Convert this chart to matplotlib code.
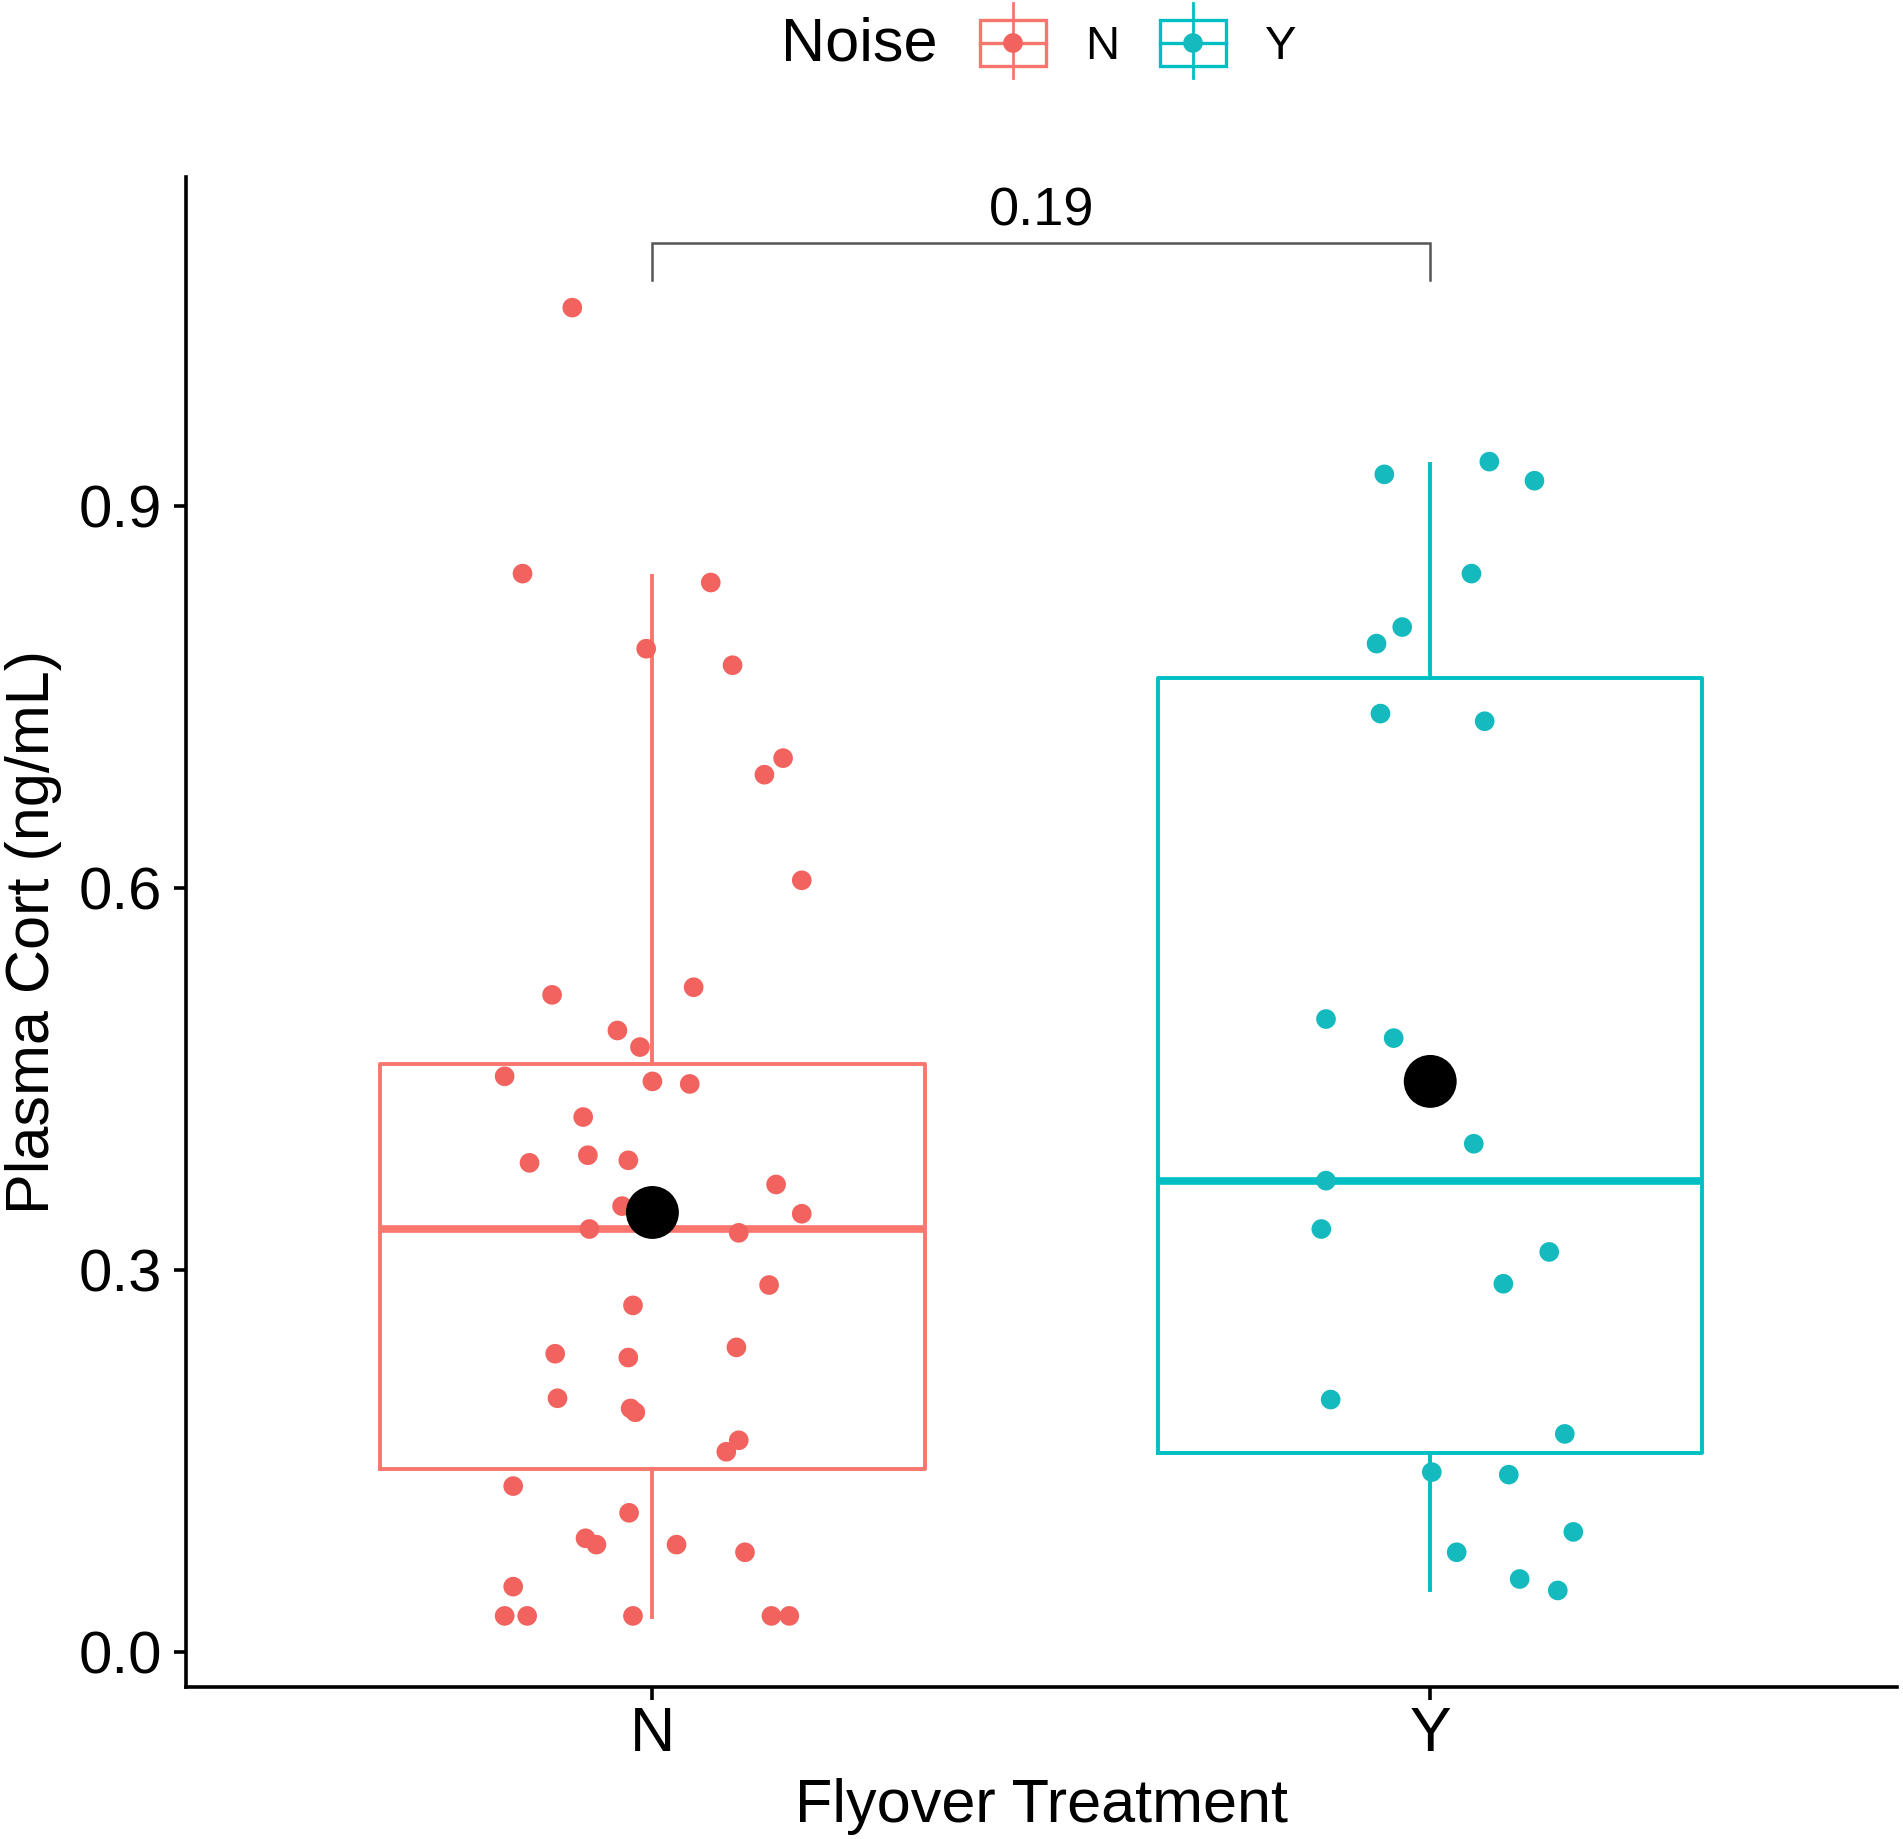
import matplotlib
matplotlib.use("Agg")
import matplotlib.pyplot as plt
import numpy as np
from matplotlib.patches import Rectangle

plt.rcParams['font.family'] = ['Liberation Sans', 'DejaVu Sans']

# ---------------- data ----------------
categories = ["N", "Y"]
colors_line = ["#F8766D", "#00BFC4"]
colors_pt = ["#F2625E", "#14BABD"]

n_values = [1.056, 0.847, 0.840, 0.788, 0.775, 0.702, 0.689, 0.606, 0.516, 0.522,
            0.488, 0.475, 0.452, 0.448, 0.446, 0.420, 0.390, 0.384, 0.386, 0.367,
            0.350, 0.344, 0.332, 0.329, 0.288, 0.272, 0.234, 0.231, 0.239, 0.199,
            0.191, 0.188, 0.166, 0.157, 0.130, 0.109, 0.089, 0.084, 0.084, 0.078,
            0.051, 0.028, 0.028, 0.028, 0.028, 0.028]
n_jitter = [-0.103, -0.167, 0.075, -0.008, 0.103, 0.168, 0.144, 0.192, -0.129, 0.053,
            -0.045, -0.016, -0.190, 0.000, 0.048, -0.089, -0.083, -0.158, -0.031, 0.159,
            -0.039, 0.192, -0.081, 0.111, 0.150, -0.025, -0.125, -0.031, 0.108, -0.122,
            -0.028, -0.022, 0.111, 0.095, -0.179, -0.030, -0.086, -0.072, 0.031, 0.119,
            -0.179, -0.190, -0.161, -0.025, 0.153, 0.176]

y_values = [0.935, 0.925, 0.920, 0.847, 0.805, 0.792, 0.737, 0.731, 0.497, 0.482,
            0.399, 0.370, 0.332, 0.314, 0.289, 0.198, 0.171, 0.141, 0.139, 0.094,
            0.078, 0.057, 0.048]
y_jitter = [0.076, -0.059, 0.134, 0.053, -0.036, -0.069, -0.064, 0.070, -0.134, -0.047,
            0.056, -0.134, -0.140, 0.153, 0.094, -0.128, 0.173, 0.002, 0.101, 0.184,
            0.034, 0.115, 0.164]

# box statistics
box_q1 = [0.1435, 0.156]
box_med = [0.332, 0.370]
box_q3 = [0.462, 0.765]
box_whislo = [0.027, 0.048]
box_whishi = [0.845, 0.933]
group_means = [0.345, 0.448]

p_label = "0.19"
yticks = [0.0, 0.3, 0.6, 0.9]
ytick_labels = ["0.0", "0.3", "0.6", "0.9"]

# ---------------- figure ----------------
W, H = 1903, 1839
fig = plt.figure(figsize=(W / 100, H / 100), dpi=100)
ax = fig.add_axes([0.0976, 0.0827, 0.8992, 0.8213])

positions = [1, 2]
for i in range(2):
    stats = [dict(q1=box_q1[i], med=box_med[i], q3=box_q3[i],
                  whislo=box_whislo[i], whishi=box_whishi[i], fliers=[])]
    c = colors_line[i]
    ax.bxp(stats, positions=[positions[i]], widths=0.7, showcaps=False,
           showfliers=False, patch_artist=False,
           boxprops=dict(color=c, linewidth=2.8),
           whiskerprops=dict(color=c, linewidth=2.8),
           medianprops=dict(color=c, linewidth=5.5, solid_capstyle='butt'),
           zorder=1)

all_vals = [n_values, y_values]
all_jit = [n_jitter, y_jitter]
for i in range(2):
    xs = positions[i] + np.array(all_jit[i])
    ax.scatter(xs, all_vals[i], s=200, color=colors_pt[i], edgecolors='none', zorder=3)

ax.scatter(positions, group_means, s=1450, color='black', edgecolors='none', zorder=4)

# significance bracket
br_top, br_bot = 1.107, 1.078
ax.plot([1, 1, 2, 2], [br_bot, br_top, br_top, br_bot], color='#555555', lw=1.8,
        solid_joinstyle='miter', zorder=2)
ax.text(1.5, 1.112, p_label, ha='center', va='bottom', fontsize=39)

ax.set_xlim(0.4, 2.6)
ax.set_ylim(-0.0278, 1.159)
ax.set_xticks(positions)
ax.set_xticklabels(categories)
ax.set_yticks(yticks)
ax.set_yticklabels(ytick_labels)
for s in ['top', 'right']:
    ax.spines[s].set_visible(False)
for s in ['left', 'bottom']:
    ax.spines[s].set_linewidth(2.6)
    ax.spines[s].set_color('black')
ax.tick_params(axis='both', length=9, width=2.6, labelsize=43, color='black', pad=8)
ax.tick_params(axis='x', labelsize=45, pad=4)
ax.set_xlabel("Flyover Treatment", fontsize=44, labelpad=10)
ax.set_ylabel("Plasma Cort (ng/mL)", fontsize=44, labelpad=12)

# ---------------- legend (manual, top) ----------------
lax = fig.add_axes([0, 0, 1, 1], facecolor='none')
lax.set_xlim(0, W)
lax.set_ylim(H, 0)
lax.axis('off')
lax.text(937, 45, "Noise", ha='right', va='center', fontsize=44)
key_centers = [1013, 1193]
for i in range(2):
    cx = key_centers[i]
    c = colors_line[i]
    lax.plot([cx, cx], [3, 78], color=c, lw=2.0)
    lax.add_patch(Rectangle((cx - 33, 20), 66, 46, facecolor='white', edgecolor=c, lw=2.4))
    lax.plot([cx - 33, cx + 33], [43, 43], color=c, lw=2.4)
    lax.scatter([cx], [43], s=200, color=colors_pt[i], edgecolors='none', zorder=5)
    lax.text(cx + 72, 47, categories[i], ha='left', va='center', fontsize=34)

fig.savefig("out.png", dpi=100, facecolor='white')
